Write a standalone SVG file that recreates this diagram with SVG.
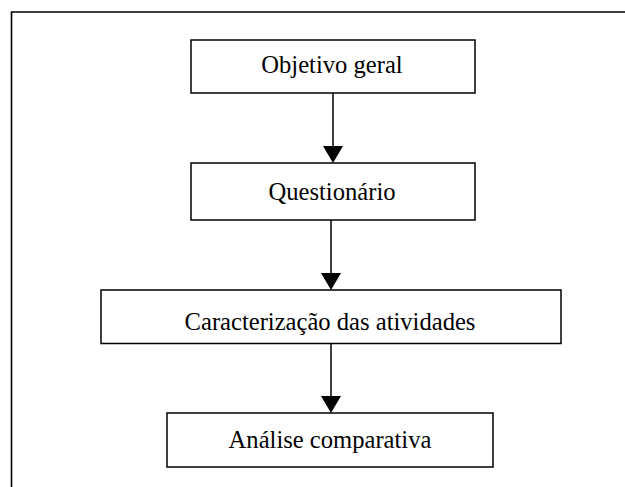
<svg xmlns="http://www.w3.org/2000/svg" width="625" height="487" viewBox="0 0 625 487">
<defs>
<style>
.box{fill:#fff;stroke:#000;stroke-width:1.5}
.lbl{font-family:"Liberation Serif","Times New Roman",serif;font-size:24.6px;fill:#000;text-anchor:middle}
.conn{stroke:#000;stroke-width:1.5;fill:none}
</style>
<marker id="ah" viewBox="0 0 17 20" markerWidth="17" markerHeight="20" refX="14" refY="10" orient="auto" markerUnits="userSpaceOnUse">
<path d="M0,0 L17,10 L0,20 Z" fill="#000"/>
</marker>
</defs>
<rect width="625" height="487" fill="#fff"/>
<path id="frame" d="M11.5,487 V12 H625" fill="none" stroke="#000" stroke-width="1.6"/>
<g id="connectors">
<line class="conn" x1="333" y1="93" x2="333" y2="160" marker-end="url(#ah)"/>
<line class="conn" x1="331" y1="217" x2="331" y2="287" marker-end="url(#ah)"/>
<line class="conn" x1="331" y1="343" x2="331" y2="410" marker-end="url(#ah)"/>
</g>
<g id="n1">
<rect class="box" x="191" y="40" width="284" height="53"/>
<text class="lbl" x="332" y="73">Objetivo geral</text>
</g>
<g id="n2">
<rect class="box" x="191" y="163" width="284" height="57"/>
<text class="lbl" x="332" y="200">Questionário</text>
</g>
<g id="n3">
<rect class="box" x="101" y="290" width="460" height="53.5"/>
<text class="lbl" x="330" y="330">Caracterização das atividades</text>
</g>
<g id="n4">
<rect class="box" x="167" y="413" width="326" height="54"/>
<text class="lbl" x="330" y="448">Análise comparativa</text>
</g>
</svg>
